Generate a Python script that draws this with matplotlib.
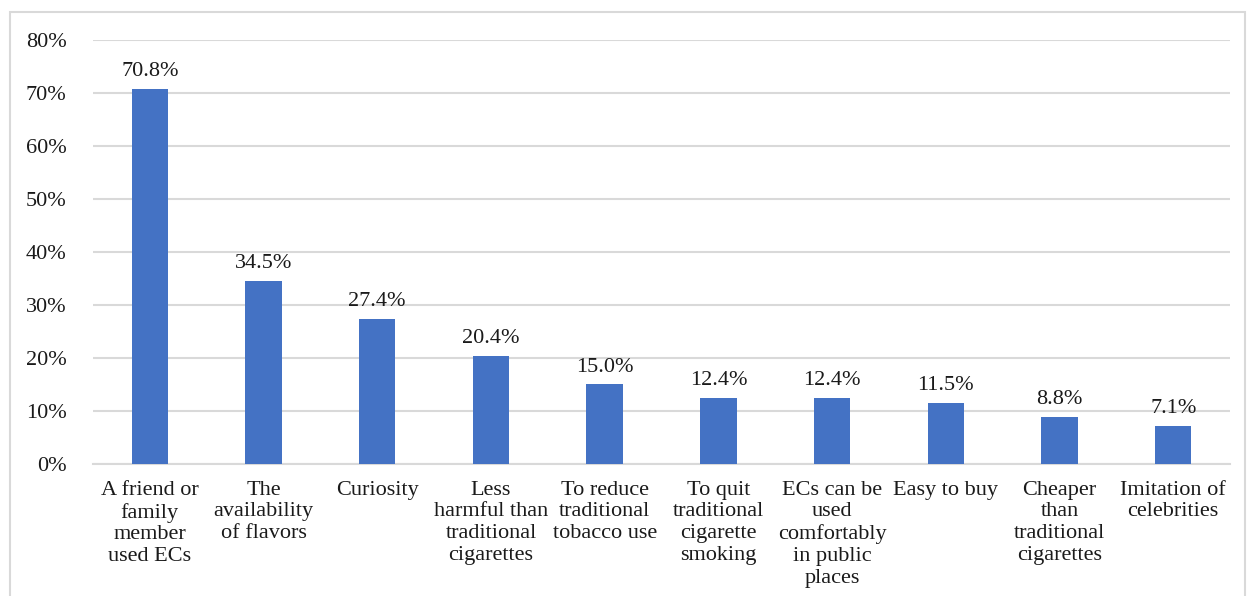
import matplotlib.pyplot as plt
from matplotlib.patches import Rectangle

categories = [
    "A friend or\nfamily\nmember\nused ECs",
    "The\navailability\nof flavors",
    "Curiosity",
    "Less\nharmful than\ntraditional\ncigarettes",
    "To reduce\ntraditional\ntobacco use",
    "To quit\ntraditional\ncigarette\nsmoking",
    "ECs can be\nused\ncomfortably\nin public\nplaces",
    "Easy to buy",
    "Cheaper\nthan\ntraditional\ncigarettes",
    "Imitation of\ncelebrities",
]
values = [70.8, 34.5, 27.4, 20.4, 15.0, 12.4, 12.4, 11.5, 8.8, 7.1]
yticks = [0, 10, 20, 30, 40, 50, 60, 70, 80]

plt.rcParams['font.family'] = ['Liberation Serif', 'DejaVu Serif']
text_color = "#1a1a1a"
grid_color = "#d9d9d9"
fs = 16

fig = plt.figure(figsize=(12.53, 5.96), dpi=100)
ax = fig.add_axes([0.0742, 0.2215, 0.9075, 0.7114])

x = range(len(categories))
bars = ax.bar(x, values, width=0.32, color="#4472C4", zorder=3)

for xi, v in zip(x, values):
    ax.text(xi, v + 1.5, f"{v:.1f}%", ha="center", va="bottom",
            fontsize=fs, color=text_color)

ax.set_ylim(0, 80)
ax.set_xlim(-0.5, len(categories) - 0.5)
ax.set_yticks(yticks)
ax.set_yticklabels([f"{t}%" for t in yticks], fontsize=fs, color=text_color)
ax.set_xticks(list(x))
ax.set_xticklabels(categories, fontsize=fs, color=text_color, va="top",
                   linespacing=1.2)
ax.tick_params(axis="both", length=0)
ax.tick_params(axis="y", pad=19)
ax.tick_params(axis="x", pad=12)

ax.yaxis.grid(True, color=grid_color, linewidth=1.5, zorder=0)
for side in ["top", "right", "left"]:
    ax.spines[side].set_visible(False)
ax.spines["bottom"].set_color(grid_color)
ax.spines["bottom"].set_linewidth(1.5)

# outer border of chart area (bottom cut off)
fig.patches.append(Rectangle((0.008, -0.05), 0.986, 1.03, transform=fig.transFigure,
                             fill=False, edgecolor=grid_color, linewidth=1.5))

plt.savefig("out.png", dpi=100)
